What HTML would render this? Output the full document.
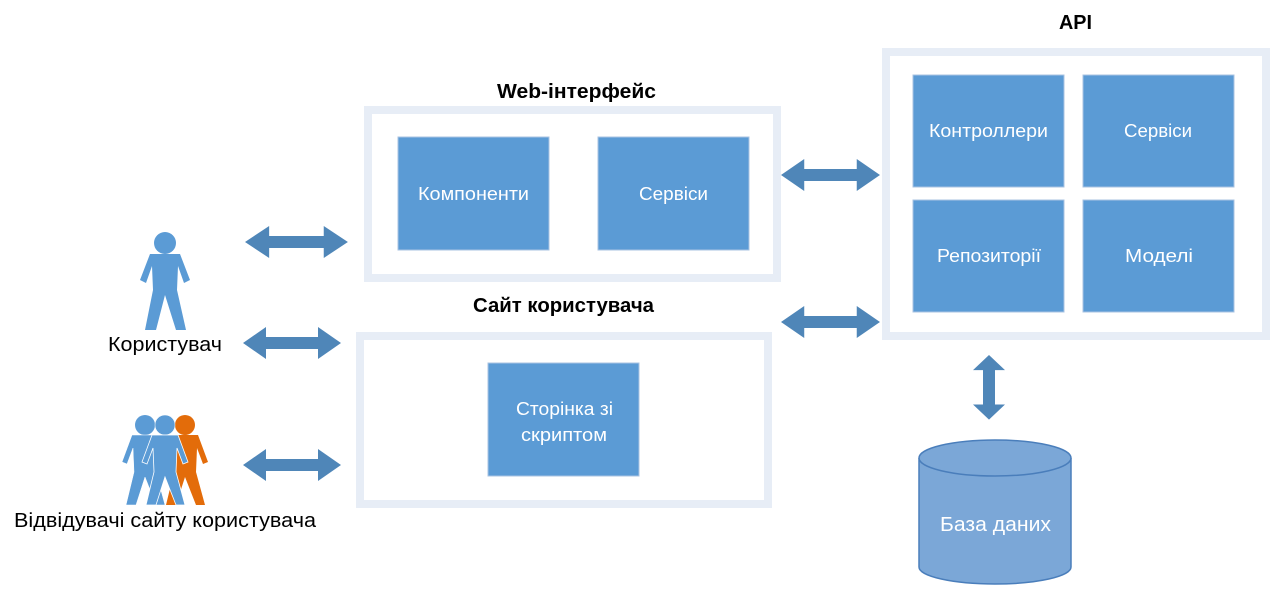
<!DOCTYPE html>
<html><head><meta charset="utf-8"><style>
html,body{margin:0;padding:0;background:#fff;}
svg{display:block;}
text{font-family:"Liberation Sans","DejaVu Sans",sans-serif;}
</style></head><body>
<svg width="1271" height="591" viewBox="0 0 1271 591" xmlns="http://www.w3.org/2000/svg">
<defs>
<g id="ha"><polygon points="0,0 23,-16 23,-6 75,-6 75,-16 98,0 75,16 75,6 23,6 23,16" fill="#4f86b8"/></g>
</defs>
<rect x="368" y="110" width="409" height="168" fill="#fff" stroke="#e7edf6" stroke-width="8"/>
<rect x="360" y="336" width="408" height="168" fill="#fff" stroke="#e7edf6" stroke-width="8"/>
<rect x="886" y="52" width="380" height="284" fill="#fff" stroke="#e7edf6" stroke-width="8"/>
<text x="497" y="98" font-size="20" font-weight="bold" textLength="159" lengthAdjust="spacingAndGlyphs" fill="#000">Web-інтерфейс</text>
<text x="473" y="312" font-size="20" font-weight="bold" textLength="181" lengthAdjust="spacingAndGlyphs" fill="#000">Сайт користувача</text>
<text x="1059" y="29" font-size="20" font-weight="bold" textLength="33" lengthAdjust="spacingAndGlyphs" fill="#000">API</text>
<g fill="#5b9bd5" stroke="#a8c3e2" stroke-width="1">
<rect x="398" y="137" width="151" height="113"/>
<rect x="598" y="137" width="151" height="113"/>
<rect x="488" y="363" width="151" height="113"/>
<rect x="913" y="75" width="151" height="112"/>
<rect x="1083" y="75" width="151" height="112"/>
<rect x="913" y="200" width="151" height="112"/>
<rect x="1083" y="200" width="151" height="112"/>
</g>
<g fill="#fff" font-size="18" lengthAdjust="spacingAndGlyphs">
<text x="418" y="200" textLength="111" lengthAdjust="spacingAndGlyphs">Компоненти</text>
<text x="639" y="200" textLength="69" lengthAdjust="spacingAndGlyphs">Сервіси</text>
<text x="516" y="415" textLength="97" lengthAdjust="spacingAndGlyphs">Сторінка зі</text>
<text x="521" y="441" textLength="86" lengthAdjust="spacingAndGlyphs">скриптом</text>
<text x="929" y="137" textLength="119" lengthAdjust="spacingAndGlyphs">Контроллери</text>
<text x="1124" y="137" textLength="68" lengthAdjust="spacingAndGlyphs">Сервіси</text>
<text x="937" y="262" textLength="104" lengthAdjust="spacingAndGlyphs">Репозиторії</text>
<text x="1125" y="262" textLength="68" lengthAdjust="spacingAndGlyphs">Моделі</text>
</g>
<use href="#ha" transform="translate(245,242) scale(1.05,1)"/>
<use href="#ha" transform="translate(243,343)"/>
<use href="#ha" transform="translate(243,465)"/>
<use href="#ha" transform="translate(781,175) scale(1.01,1)"/>
<use href="#ha" transform="translate(781,322) scale(1.01,1)"/>
<use href="#ha" transform="translate(989,355) rotate(90) scale(0.66,1)"/>
<path d="M919,458 L919,567 A76,17 0 0 0 1071,567 L1071,458" fill="#7ba7d7" stroke="#4a7ebb" stroke-width="1.5"/>
<ellipse cx="995" cy="458" rx="76" ry="18" fill="#7ba7d7" stroke="#4a7ebb" stroke-width="1.5"/>
<text x="940" y="531" font-size="20" fill="#fff" textLength="111" lengthAdjust="spacingAndGlyphs">База даних</text>
<g fill="#5b9bd5">
<circle cx="165" cy="243" r="11"/>
<polygon points="150,254 180,254 190,280 184,283 178,266 177,290 186,330 176,330 165,295 156,330 145,330 153,290 152,266 146,283 140,280"/>
</g>
<text x="108" y="351" font-size="20" textLength="114" lengthAdjust="spacingAndGlyphs" fill="#000">Користувач</text>
<g>
<circle cx="185" cy="425" r="10" fill="#e36c0a"/>
<polygon points="172,435 198,435 208,462 203,464 197,448 196,472 205,505 196,505 185,477 176,505 166,505 174,472 173,448 167,464 162,462" fill="#e36c0a"/>
<circle cx="145" cy="425" r="10" fill="#5b9bd5"/>
<polygon points="132,435 158,435 168,462 163,464 157,448 156,472 165,505 156,505 145,477 136,505 126,505 134,472 133,448 127,464 122,462" fill="#5b9bd5" stroke="#fff" stroke-width="0.5"/>
<circle cx="165" cy="425" r="10" fill="#5b9bd5" stroke="#fff" stroke-width="0.5"/>
<polygon points="152,435 178,435 188,462 183,464 177,448 176,472 185,505 176,505 165,477 156,505 146,505 154,472 153,448 147,464 142,462" fill="#5b9bd5" stroke="#fff" stroke-width="0.8"/>
</g>
<text x="14" y="527" font-size="20" textLength="302" lengthAdjust="spacingAndGlyphs" fill="#000">Відвідувачі сайту користувача</text>
</svg>
</body></html>
